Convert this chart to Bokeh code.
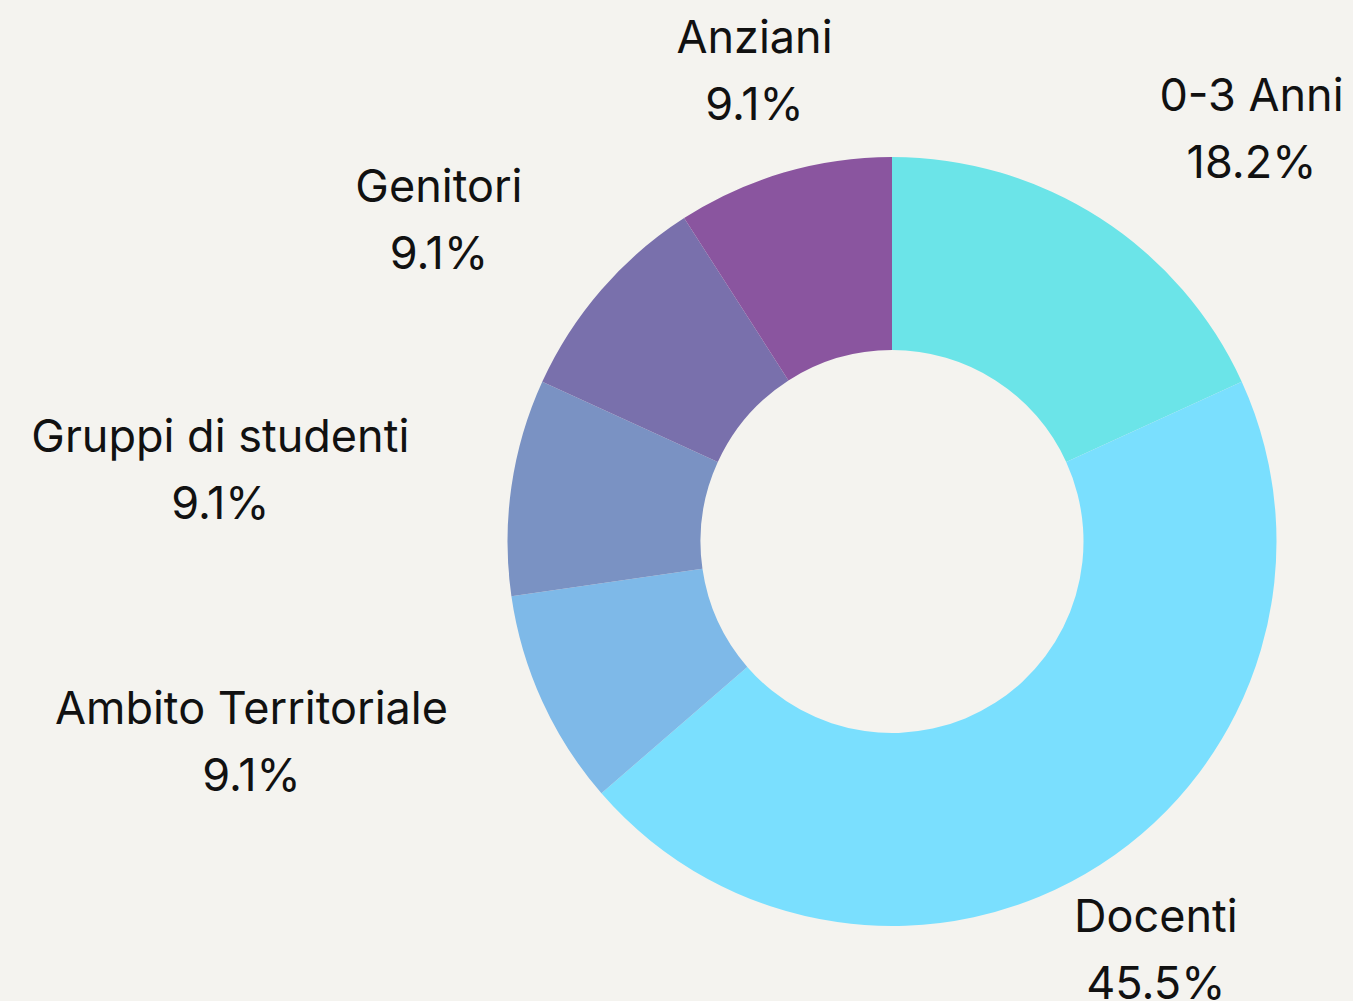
import math
import numpy as np
from bokeh.plotting import figure
from bokeh.models import Range1d, ColumnDataSource
from bokeh.core.properties import value
from bokeh.embed import file_html
from bokeh.resources import INLINE

# ---- data ----
categories = ["0-3 Anni", "Docenti", "Ambito Territoriale", "Gruppi di studenti", "Genitori", "Anziani"]
counts = [2, 5, 1, 1, 1, 1]
pct_labels = ["18.2%", "45.5%", "9.1%", "9.1%", "9.1%", "9.1%"]

# ---- styles ----
colors = ["#6BE4E8", "#7ADFFE", "#7EB9E8", "#7A92C3", "#7970AC", "#8A559F"]
label_align = ["left", "center", "right", "right", "right", "center"]
BG = "#F4F3EF"
FONT = "Inter"
FS = 45
W, H = 1353, 1001
CX, CY = 891.5, 1001 - 541.0
R_OUT, R_IN = 384.5, 191.5
R_LAB = 488.0
LINE_GAP = 33.5
BASE_SHIFT = -3.0
WIDTH_FACTOR = 1.07  # Inter is a little wider than the Arial-metric table below

# Arial-metric advance widths (per 1000 em)
ADV = {" ": 278, "-": 333, ".": 278, "%": 889, "A": 667, "D": 722, "G": 778, "T": 611,
       "a": 556, "b": 556, "c": 500, "d": 556, "e": 556, "i": 222, "l": 222, "m": 833,
       "n": 556, "o": 556, "p": 556, "r": 333, "s": 500, "t": 278, "u": 556, "z": 500}
for d in "0123456789":
    ADV[d] = 556

def text_width(s):
    return sum(ADV.get(ch, 556) for ch in s) * FS * WIDTH_FACTOR / 1000.0

total = float(sum(counts))
frac = np.array(counts) / total
cum = np.concatenate([[0.0], np.cumsum(frac)])
start = math.pi / 2 - 2 * math.pi * cum[:-1]
end = math.pi / 2 - 2 * math.pi * cum[1:]
mid = (start + end) / 2

src = ColumnDataSource(dict(start=start, end=end, color=colors))

p = figure(width=W, height=H, output_backend="svg", toolbar_location=None,
           x_range=Range1d(0, W), y_range=Range1d(0, H), min_border=0,
           background_fill_color=BG, border_fill_color=BG)
p.axis.visible = False
p.grid.visible = False
p.outline_line_color = None

p.annular_wedge(x=CX, y=CY, inner_radius=R_IN, outer_radius=R_OUT,
                start_angle="start", end_angle="end", direction="clock",
                fill_color="color", line_color=None, source=src)

lx, ly = [], []
for i, name in enumerate(categories):
    ax = CX + R_LAB * math.cos(mid[i])
    ay = CY + R_LAB * math.sin(mid[i])
    w = text_width(name)
    if label_align[i] == "left":
        ax += w / 2 + 6
    elif label_align[i] == "right":
        ax -= w / 2
    lx.append(ax)
    ly.append(ay)

lab = ColumnDataSource(dict(x=lx, y=ly, name=categories, pct=pct_labels))
common = dict(text_font=value(FONT), text_font_size=f"{FS}px", text_color="#111111",
              text_align="center", text_baseline="middle", source=lab)
p.text(x="x", y="y", text="name", y_offset=-LINE_GAP + BASE_SHIFT, **common)
p.text(x="x", y="y", text="pct", y_offset=LINE_GAP + BASE_SHIFT, **common)

tmpl = "{% block preamble %}{{ super() }}<style>body{background:" + BG + ";}</style>{% endblock %}"
open("out.html", "w").write(file_html(p, INLINE, title="Donut", template=tmpl))
